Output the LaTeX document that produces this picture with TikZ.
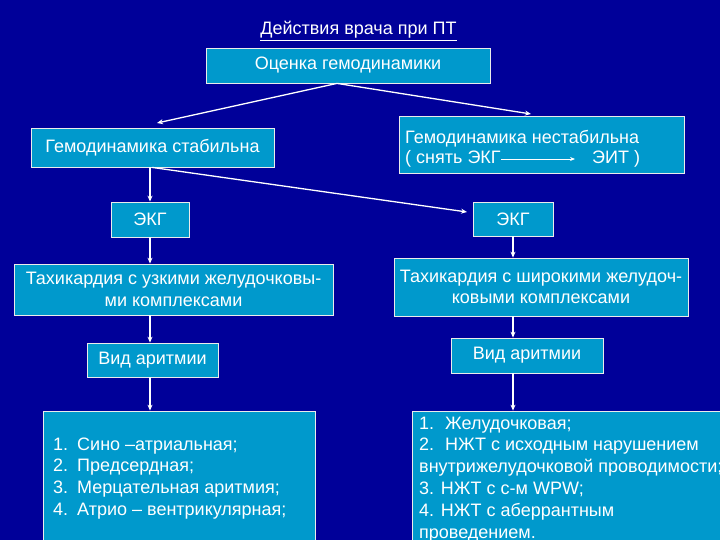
\documentclass[tikz,border=0pt]{standalone}
\usepackage{fontspec}
\setmainfont{Liberation Sans}
\usetikzlibrary{arrows.meta,calc}
\definecolor{bgblue}{HTML}{000099}
\definecolor{boxblue}{HTML}{0099CC}
\begin{document}
\begin{tikzpicture}[x=1pt,y=-1pt,
  box/.style={draw=white!92!black,line width=0.8pt,fill=boxblue,text=white,inner sep=0pt,
    font=\fontsize{18}{21.6}\selectfont,align=center},
  lbl/.style={text=white,inner sep=0pt,font=\fontsize{18}{21.6}\selectfont},
  conn/.style={draw=white,line width=1.3pt,-{Stealth[length=6pt,width=5pt]}},
  thinconn/.style={draw=white,line width=0.8pt,-{Stealth[length=5pt,width=4pt]}},
]
\useasboundingbox (0,0) rectangle (720,540);
\clip (0,0) rectangle (720,540);
\fill[bgblue] (0,0) rectangle (720,540);

% title
\node[lbl,anchor=base] (title) at (358.5,35) {\underline{Действия врача при ПТ}};

% boxes
\node[box,minimum width=284pt,minimum height=35pt] (ocenka) at (348,65.5) {Оценка гемодинамики};
\node[box,minimum width=243pt,minimum height=39pt] (stab) at (152.5,147.5) {Гемодинамика стабильна};
\node[box,minimum width=285pt,minimum height=57pt] (unstab) at (541.5,144.5) {};
\node[lbl,anchor=base west] (un1) at (405,143.5) {Гемодинамика нестабильна};
\node[lbl,anchor=base west] (un2) at (405,163.5) {( снять ЭКГ};
\node[lbl,anchor=base west] (un3) at (592,163.5) {ЭИТ )};

\node[box,minimum width=78pt,minimum height=35pt] (ekgL) at (150,219.5) {ЭКГ};
\node[box,minimum width=80pt,minimum height=34pt] (ekgR) at (513,219) {ЭКГ};

\node[box,minimum width=319pt,minimum height=51pt] (tachL) at (173.5,289.5)
  {Тахикардия с узкими желудочковы-\\ми комплексами};
\node[box,minimum width=294pt,minimum height=58pt] (tachR) at (541,287)
  {Тахикардия с широкими желудоч-\\ковыми комплексами};

\node[box,minimum width=131pt,minimum height=34pt] (vidL) at (152.5,360) {Вид аритмии};
\node[box,minimum width=152pt,minimum height=35pt] (vidR) at (527,355.5) {Вид аритмии};

\node[box,minimum width=272pt,minimum height=149pt] (listL) at (179,485.5) {};
\node[box,minimum width=338pt,minimum height=149pt] (listR) at (581,485.5) {};

% left list
\node[lbl,anchor=base west] (la) at (53,450) {\makebox[24pt][l]{1.}Сино –атриальная;};
\node[lbl,anchor=base west] (lb) at (53,471.7) {\makebox[24pt][l]{2.}Предсердная;};
\node[lbl,anchor=base west] (lc) at (53,493.4) {\makebox[24pt][l]{3.}Мерцательная аритмия;};
\node[lbl,anchor=base west] (ld) at (53,515.1) {\makebox[24pt][l]{4.}Атрио – вентрикулярная;};

% right list
\node[lbl,anchor=base west] (ra) at (419,429) {\makebox[26pt][l]{1.}Желудочковая;};
\node[lbl,anchor=base west] (rb) at (419,450.8) {\makebox[26pt][l]{2.}НЖТ с исходным нарушением};
\node[lbl,anchor=base west] (rc) at (419,472.6) {внутрижелудочковой проводимости;};
\node[lbl,anchor=base west] (rd) at (419,494.4) {3. НЖТ с с-м WPW;};
\node[lbl,anchor=base west] (re) at (419,516.2) {4. НЖТ с аберрантным};
\node[lbl,anchor=base west] (rf) at (419,538) {проведением.};

% connectors
\coordinate (lt) at (157,123);
\coordinate (rt) at (531,114);
\coordinate (ekt) at (467,212);
\draw[conn] ([xshift=-11pt]ocenka.south) -- (lt);
\draw[conn] ([xshift=-11pt]ocenka.south) -- (rt);
\draw[thinconn] ($(un2.base east)+(0,-4.5)$) -- ($(un3.base west)+(-17,-4.5)$);

\draw[conn] (ekgL.north |- stab.south) -- (ekgL.north);
\draw[conn] ([xshift=-0.5pt]stab.south) -- (ekt);
\draw[conn] (ekgL.south) -- (ekgL.south |- tachL.north);
\draw[conn] (ekgL.south |- tachL.south) -- (ekgL.south |- vidL.north);
\draw[conn] (ekgL.south |- vidL.south) -- (ekgL.south |- listL.north);

\draw[conn] (ekgR.south) -- (ekgR.south |- tachR.north);
\draw[conn] (ekgR.south |- tachR.south) -- (ekgR.south |- vidR.north);
\draw[conn] (ekgR.south |- vidR.south) -- (ekgR.south |- listR.north);
\end{tikzpicture}
\end{document}
